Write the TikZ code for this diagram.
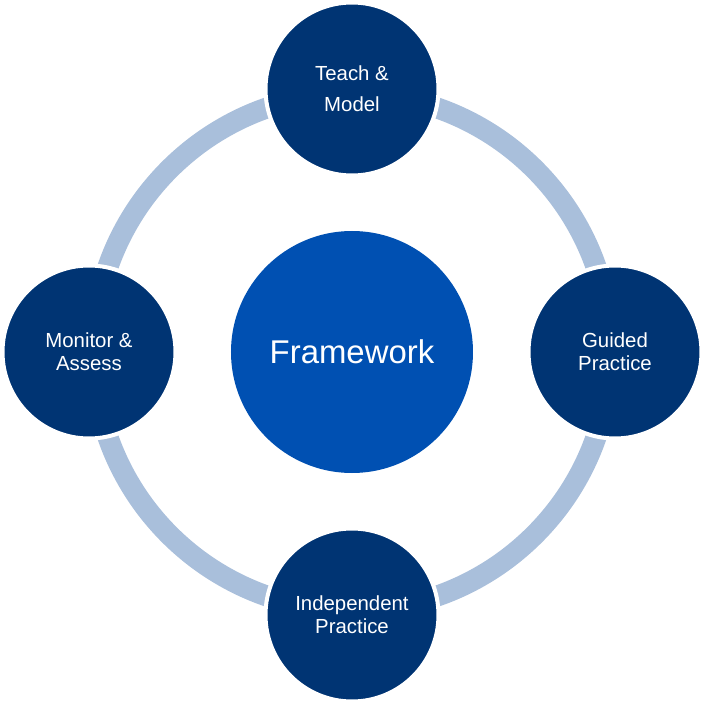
\documentclass[tikz,border=0pt]{standalone}
\usepackage{fontspec}
\setmainfont{Liberation Sans}
\usetikzlibrary{positioning}

\definecolor{navy}{HTML}{003473}
\definecolor{midblue}{HTML}{0050B2}
\definecolor{ringblue}{HTML}{A9BFDB}

\begin{document}
\begin{tikzpicture}[
    stage/.style={circle,fill=navy,draw=white,line width=1mm,minimum size=43.25mm,
        inner sep=0pt,text=white,align=center,font=\fontsize{14.5}{16.4}\selectfont},
    hub/.style={circle,fill=midblue,minimum size=60.5mm,inner sep=0pt,text=white,
        font=\fontsize{23.4}{28}\selectfont}
]
\useasboundingbox (-88mm,-88mm) rectangle (88.25mm,88mm);

% ring behind the stages
\draw[ringblue,line width=5.25mm] (0,0) circle (64.6mm);

\node[hub] (framework) at (0,0) {Framework};

\node[stage,font=\fontsize{14.5}{22}\selectfont] (teach) at (0,65.75mm) {Teach \&\\Model};
\node[stage] (guided) at (65.75mm,0) {Guided\\Practice};
\node[stage] (independent) at (0,-65.75mm) {Independent\\Practice};
\node[stage] (monitor) at (-65.75mm,0) {Monitor \&\\Assess};

\end{tikzpicture}
\end{document}
